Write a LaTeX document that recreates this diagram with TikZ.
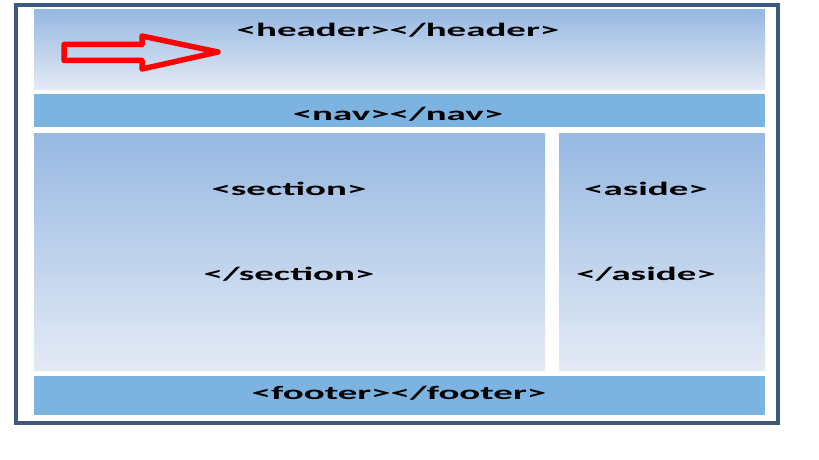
\documentclass[tikz,border=0pt]{standalone}
\usepackage{fontspec}
\setmainfont{Carlito}
\usepackage{graphicx}
\usepackage{xcolor}
\definecolor{framedark}{RGB}{60, 90, 128}
\definecolor{bandblue}{RGB}{125, 179, 224}
\definecolor{paneltop}{RGB}{150, 184, 226}
\definecolor{panelbot}{RGB}{228, 234, 245}
\definecolor{arrowred}{RGB}{255, 0, 0}
\usetikzlibrary{positioning}
\newcommand{\widetag}[1]{\scalebox{2.05}[1]{#1}}

\begin{document}
\begin{tikzpicture}[x=1pt, y=-1pt,
    tagtext/.style={font=\bfseries\fontsize{19}{22}\selectfont, anchor=base, inner sep=0pt, text=black}]
      \useasboundingbox (0,0) rectangle (819,460);
      % outer frame
      \draw[fill=white, draw=framedark, line width=4pt]
            (16,5) rectangle (778,423);
      % header and nav
      \shade[top color=paneltop, bottom color=panelbot]
            (34,10) rectangle (765,89);
      \fill[bandblue] (34,94) rectangle (765,127);
      % section and aside
      \shade[top color=paneltop, bottom color=panelbot]
            (34,133) rectangle (545,370);
      \shade[top color=paneltop, bottom color=panelbot]
            (559,133) rectangle (765,370);
      % footer
      \fill[bandblue] (34,376) rectangle (765,415);
      \draw[arrowred, line width=5.5pt, line join=round]
            (64,44.5) -- (142,44.5) -- (142,36) -- (218,52)
            -- (142,69) -- (142,60.5) -- (64,60.5) -- cycle;
      \node[tagtext] (header) at (398,37) {\widetag{<header></header>}};
      \node[tagtext] (nav) at (398,120) {\widetag{<nav></nav>}};
      \node[tagtext] (secopen) at (289,195) {\widetag{<section>}};
      \node[tagtext] (secclose) at (289,280) {\widetag{</section>}};
      \node[tagtext] (asideopen) at (646,195) {\widetag{<aside>}};
      \node[tagtext] (asideclose) at (646,280) {\widetag{</aside>}};
      \node[tagtext] (footer) at (399,399) {\widetag{<footer></footer>}};
    \end{tikzpicture}
\end{document}
